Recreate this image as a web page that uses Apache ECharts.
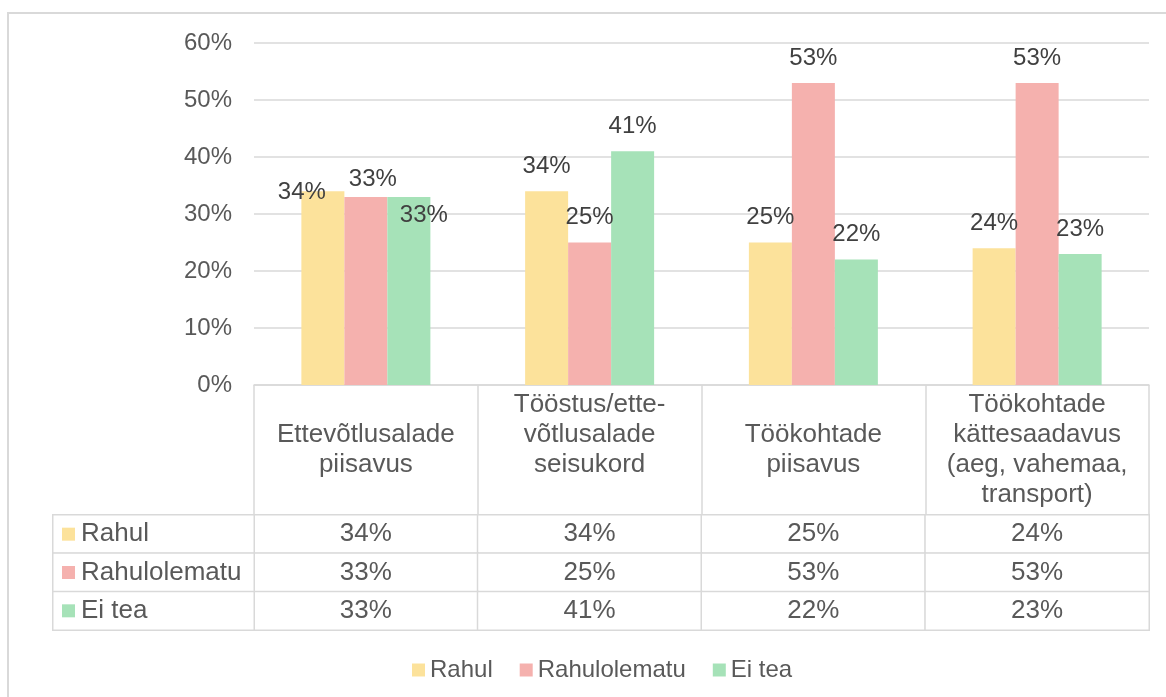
<!DOCTYPE html>
<html>
<head>
<meta charset="utf-8">
<script src="https://cdn.jsdelivr.net/npm/echarts@6/dist/echarts.min.js"></script>
<style>
html,body{margin:0;padding:0;background:#fff;}
#chart{width:1166px;height:697px;}
</style>
</head>
<body>
<div id="chart"></div>
<script>
// ---- data ----
const categories = [
  'Ettevõtlusalade\npiisavus',
  'Tööstus/ette-\nvõtlusalade\nseisukord',
  'Töökohtade\npiisavus',
  'Töökohtade\nkättesaadavus\n(aeg, vahemaa,\ntransport)'
];
const seriesNames = ['Rahul', 'Rahulolematu', 'Ei tea'];
const rahul = [34, 34, 25, 24];
const rahulolematu = [33, 25, 53, 53];
const eiTea = [33, 41, 22, 23];
const yMin = 0, yMax = 60, yInterval = 10;

// ---- styles ----
const colors = ['#FCE29B', '#F5B1AE', '#A6E2B8'];
const font = "'Liberation Sans', Arial, sans-serif";
const txt = '#595959';
const lineC = '#D9D9D9';
const fs = 24;      // axis, data labels, legend
const tfs = 26;     // data table text
// manual nudges of the first group's data labels (as in the original)
const labelNudges = [
  [[-21, 26], null, null, null],
  [[7, 7], null, null, null],
  [[15, 43], null, null, null]
];

const values = [rahul, rahulolematu, eiTea];

const barSeries = values.map((arr, si) => ({
  name: seriesNames[si],
  type: 'bar',
  xAxisIndex: 0, yAxisIndex: 0,
  barWidth: 43,
  barGap: '0%',
  itemStyle: { color: colors[si] },
  label: {
    show: true, position: 'top', distance: 13,
    formatter: '{c}%', fontSize: fs, fontFamily: font, color: '#404040'
  },
  emphasis: { disabled: true },
  data: arr.map((v, i) => {
    const n = labelNudges[si][i];
    return n ? { value: v, label: { offset: n } } : v;
  })
}));

const tableData = [];
values.forEach((arr, si) => arr.forEach((v, ci) => tableData.push([ci, si, v])));
const headData = seriesNames.map((n, si) => [0, si, si]);

const option = {
  animation: false,
  color: colors,
  textStyle: { fontFamily: font },
  graphic: [{
    type: 'rect', silent: true, z: -10,
    shape: { x: 8, y: 13, width: 1400, height: 900 },
    style: { fill: 'none', stroke: lineC, lineWidth: 2 }
  }],
  legend: {
    data: seriesNames,
    left: 407, top: 653,
    icon: 'rect', itemWidth: 13, itemHeight: 13, itemGap: 27,
    textStyle: { fontSize: fs, color: txt, fontFamily: font }
  },
  grid: [
    { left: 254, right: 17, top: 43, bottom: 312, containLabel: false },
    { left: 254, right: 17, top: 515, height: 115, containLabel: false },
    { left: 53, width: 201, top: 515, height: 115, containLabel: false }
  ],
  xAxis: [
    {
      gridIndex: 0, type: 'category', data: categories,
      axisLine: { show: true, lineStyle: { color: lineC, width: 1.5 } },
      axisTick: { show: true, length: 245, lineStyle: { color: lineC, width: 1.5 } },
      axisLabel: {
        interval: 0, margin: 65, verticalAlign: 'middle', lineHeight: 30,
        fontSize: tfs, color: txt, fontFamily: font, align: 'center',
        formatter: v => v.split('\n').length === 3 ? v + '\n' : v
      }
    },
    { gridIndex: 1, type: 'category', data: categories, show: false },
    { gridIndex: 2, type: 'category', data: [''], show: false }
  ],
  yAxis: [
    {
      gridIndex: 0, type: 'value', min: yMin, max: yMax, interval: yInterval,
      axisLine: { show: false }, axisTick: { show: false },
      splitLine: { lineStyle: { color: lineC, width: 1.5 } },
      axisLabel: { formatter: '{value}%', margin: 22, fontSize: fs, color: txt, fontFamily: font }
    },
    { gridIndex: 1, type: 'category', data: seriesNames, inverse: true, show: false },
    { gridIndex: 2, type: 'category', data: seriesNames, inverse: true, show: false }
  ],
  series: barSeries.concat([
    {
      type: 'heatmap', xAxisIndex: 1, yAxisIndex: 1,
      data: tableData,
      itemStyle: { color: '#fff', borderColor: lineC, borderWidth: 1.5 },
      label: {
        show: true, fontSize: tfs, color: txt, fontFamily: font,
        formatter: p => p.value[2] + '%'
      },
      emphasis: { disabled: true }
    },
    {
      type: 'heatmap', xAxisIndex: 2, yAxisIndex: 2,
      data: headData,
      itemStyle: { color: '#fff', borderColor: lineC, borderWidth: 1.5 },
      label: {
        show: true, position: 'insideLeft', distance: 10,
        formatter: p => '{s' + p.value[2] + '|}{t|' + seriesNames[p.value[2]] + '}',
        rich: {
          s0: { backgroundColor: colors[0], width: 13, height: 13 },
          s1: { backgroundColor: colors[1], width: 13, height: 13 },
          s2: { backgroundColor: colors[2], width: 13, height: 13 },
          t: { fontSize: tfs, color: txt, fontFamily: font, padding: [0, 0, 0, 6] }
        }
      },
      emphasis: { disabled: true }
    }
  ])
};

const chart = echarts.init(document.getElementById('chart'), null, { renderer: 'canvas' });
chart.setOption(option);
</script>
</body>
</html>
